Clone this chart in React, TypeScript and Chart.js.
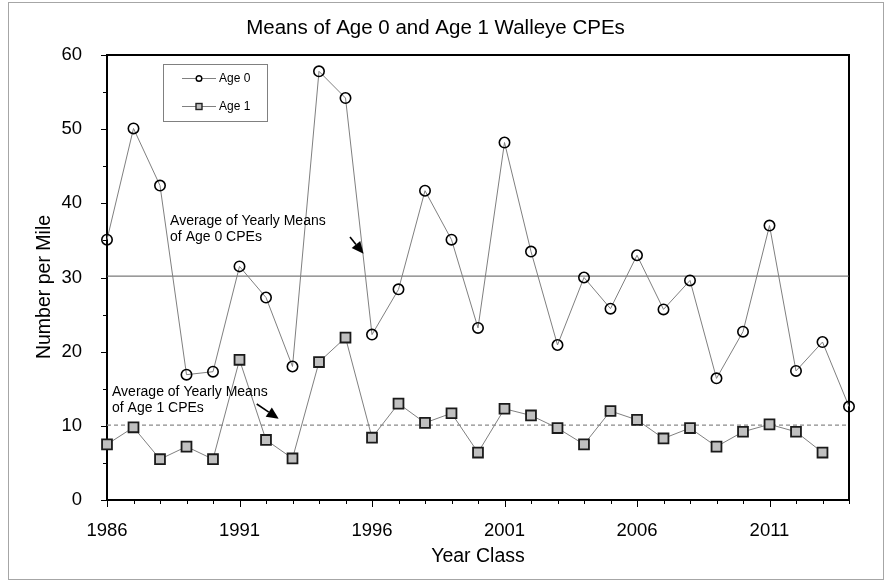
import React, { useEffect, useRef } from 'react';
import { Chart, registerables } from 'chart.js';

Chart.register(...registerables);

// ---------------- data ----------------
const YEARS = [
  1986, 1987, 1988, 1989, 1990, 1991, 1992, 1993, 1994, 1995,
  1996, 1997, 1998, 1999, 2000, 2001, 2002, 2003, 2004, 2005,
  2006, 2007, 2008, 2009, 2010, 2011, 2012, 2013, 2014,
];
const AGE0 = [
  35.1, 50.1, 42.4, 16.9, 17.3, 31.5, 27.3, 18.0, 57.8, 54.2,
  22.3, 28.4, 41.7, 35.1, 23.2, 48.2, 33.5, 20.9, 30.0, 25.8,
  33.0, 25.7, 29.6, 16.4, 22.7, 37.0, 17.4, 21.3, 12.6,
];
const AGE1 = [
  7.5, 9.8, 5.5, 7.2, 5.5, 18.9, 8.1, 5.6, 18.6, 21.9,
  8.4, 13.0, 10.4, 11.7, 6.4, 12.3, 11.4, 9.7, 7.5, 12.0,
  10.8, 8.3, 9.7, 7.2, 9.2, 10.2, 9.2, 6.4,
];
const X_LABEL_YEARS = [1986, 1991, 1996, 2001, 2006, 2011];
const Y_MIN = 0;
const Y_MAX = 60;
const Y_STEP = 10;
const Y_MINOR_STEP = 5;

const TITLE = 'Means of Age 0 and Age 1 Walleye CPEs';
const X_TITLE = 'Year Class';
const Y_TITLE = 'Number per Mile';
const SERIES_NAMES = ['Age 0', 'Age 1'];

const AGE0_NOTE = ['Average of Yearly Means', 'of Age 0 CPEs'];
const AGE1_NOTE = ['Average of Yearly Means', 'of Age 1 CPEs'];
// annotation anchors in data units (year, value)
const AGE0_NOTE_AT = { x: 1988.38, y: 37.66 };
const AGE0_ARROW = [{ x: 1995.17, y: 35.46 }, { x: 1995.68, y: 33.2 }];
const AGE1_NOTE_AT = { x: 1986.19, y: 14.6 };
const AGE1_ARROW = [{ x: 1991.65, y: 12.94 }, { x: 1992.48, y: 10.95 }];

const mean = (a: number[]) => a.reduce((s, v) => s + v, 0) / a.length;
const AGE0_AVG = mean(AGE0);
const AGE1_AVG = mean(AGE1);

// ---------------- styles ----------------
const FONT = '"Liberation Sans", Arial, Helvetica, sans-serif';
const LINE_GRAY = '#808080';

function drawArrow(ctx: CanvasRenderingContext2D, x1: number, y1: number, x2: number, y2: number) {
  const ang = Math.atan2(y2 - y1, x2 - x1);
  const headLen = 12;
  const headHalf = 5.5;
  const bx = x2 - headLen * Math.cos(ang);
  const by = y2 - headLen * Math.sin(ang);
  ctx.save();
  ctx.strokeStyle = '#000';
  ctx.fillStyle = '#000';
  ctx.lineWidth = 1.6;
  ctx.beginPath();
  ctx.moveTo(x1, y1);
  ctx.lineTo(bx, by);
  ctx.stroke();
  ctx.beginPath();
  ctx.moveTo(x2, y2);
  ctx.lineTo(bx + headHalf * Math.sin(ang), by - headHalf * Math.cos(ang));
  ctx.lineTo(bx - headHalf * Math.sin(ang), by + headHalf * Math.cos(ang));
  ctx.closePath();
  ctx.fill();
  ctx.restore();
}

const decor = {
  id: 'decor',
  beforeDraw(chart: any) {
    const ctx: CanvasRenderingContext2D = chart.ctx;
    ctx.save();
    ctx.fillStyle = '#fff';
    ctx.fillRect(0, 0, chart.width, chart.height);
    ctx.strokeStyle = '#a6a6a6';
    ctx.lineWidth = 1;
    ctx.strokeRect(8.5, 2.5, 875, 577);
    ctx.restore();
  },
  beforeDatasetsDraw(chart: any) {
    const ctx: CanvasRenderingContext2D = chart.ctx;
    const { left, right, top, bottom } = chart.chartArea;
    const xs = chart.scales.x;
    const ys = chart.scales.y;
    ctx.save();
    ctx.strokeStyle = '#000';
    ctx.lineWidth = 1;
    for (let yr = xs.min; yr <= xs.max; yr++) {
      const px = Math.round(xs.getPixelForValue(yr)) + 0.5;
      const len = X_LABEL_YEARS.includes(yr) ? 7 : 4;
      ctx.beginPath();
      ctx.moveTo(px, bottom);
      ctx.lineTo(px, bottom + len);
      ctx.stroke();
    }
    for (let v = Y_MIN; v <= Y_MAX; v += Y_MINOR_STEP) {
      const py = Math.round(ys.getPixelForValue(v)) + 0.5;
      const len = v % Y_STEP === 0 ? 6 : 4;
      ctx.beginPath();
      ctx.moveTo(left, py);
      ctx.lineTo(left - len, py);
      ctx.stroke();
    }
    ctx.lineWidth = 2;
    ctx.strokeRect(left, top, right - left, bottom - top);
    ctx.restore();
  },
  afterDatasetsDraw(chart: any) {
    const ctx: CanvasRenderingContext2D = chart.ctx;
    const xs = chart.scales.x;
    const ys = chart.scales.y;
    ctx.save();
    // annotations
    ctx.fillStyle = '#000';
    ctx.font = `14px ${FONT}`;
    ctx.textAlign = 'left';
    ctx.textBaseline = 'middle';
    const drawNote = (lines: string[], at: { x: number; y: number }) => {
      const px = xs.getPixelForValue(at.x);
      const py = ys.getPixelForValue(at.y);
      lines.forEach((t, i) => ctx.fillText(t, px, py + i * 16));
    };
    drawNote(AGE0_NOTE, AGE0_NOTE_AT);
    drawNote(AGE1_NOTE, AGE1_NOTE_AT);
    const arrow = (a: { x: number; y: number }[]) =>
      drawArrow(ctx, xs.getPixelForValue(a[0].x), ys.getPixelForValue(a[0].y),
        xs.getPixelForValue(a[1].x), ys.getPixelForValue(a[1].y));
    arrow(AGE0_ARROW);
    arrow(AGE1_ARROW);

    // legend
    const lx = 163, ly = 64, lw = 104, lh = 57;
    ctx.fillStyle = '#fff';
    ctx.fillRect(lx, ly, lw, lh);
    ctx.strokeStyle = '#808080';
    ctx.lineWidth = 1;
    ctx.strokeRect(lx + 0.5, ly + 0.5, lw, lh);
    const rows = [ly + 14, ly + 42];
    rows.forEach((ry, i) => {
      ctx.strokeStyle = LINE_GRAY;
      ctx.lineWidth = 1;
      ctx.beginPath();
      ctx.moveTo(lx + 19, ry + 0.5);
      ctx.lineTo(lx + 53, ry + 0.5);
      ctx.stroke();
      const mx = lx + 36;
      if (i === 0) {
        ctx.fillStyle = '#fff';
        ctx.strokeStyle = '#000';
        ctx.lineWidth = 1.4;
        ctx.beginPath();
        ctx.arc(mx, ry + 0.5, 2.8, 0, Math.PI * 2);
        ctx.fill();
        ctx.stroke();
      } else {
        ctx.fillStyle = '#c0c0c0';
        ctx.strokeStyle = '#222';
        ctx.lineWidth = 1.4;
        ctx.fillRect(mx - 3, ry - 2.5, 6, 6);
        ctx.strokeRect(mx - 3, ry - 2.5, 6, 6);
      }
      ctx.fillStyle = '#000';
      ctx.font = `12px ${FONT}`;
      ctx.textAlign = 'left';
      ctx.textBaseline = 'middle';
      ctx.fillText(SERIES_NAMES[i], lx + 56, ry + 1);
    });
    ctx.restore();
  },
  afterDraw(chart: any) {
    const ctx: CanvasRenderingContext2D = chart.ctx;
    const { left, right, top, bottom } = chart.chartArea;
    ctx.save();
    ctx.fillStyle = '#000';
    ctx.textAlign = 'center';
    ctx.textBaseline = 'alphabetic';
    ctx.font = `20.5px ${FONT}`;
    ctx.fillText(TITLE, 435.5, 33.5);
    ctx.font = `19.5px ${FONT}`;
    ctx.fillText(X_TITLE, (left + right) / 2, 562);
    ctx.translate(50, (top + bottom) / 2 + 9.5);
    ctx.rotate(-Math.PI / 2);
    ctx.fillText(Y_TITLE, 0, 0);
    ctx.restore();
  },
};

export default function App() {
  const ref = useRef<HTMLCanvasElement | null>(null);
  useEffect(() => {
    if (!ref.current) return;
    const chart = new Chart(ref.current, {
      type: 'line',
      data: {
        datasets: [
          {
            label: SERIES_NAMES[0],
            data: YEARS.map((x, i) => ({ x, y: AGE0[i] })),
            borderColor: LINE_GRAY,
            borderWidth: 1,
            pointRadius: 5.2,
            pointStyle: 'circle',
            pointBackgroundColor: 'rgba(0,0,0,0)',
            pointBorderColor: '#000',
            pointBorderWidth: 1.6,
            tension: 0,
            clip: false,
          },
          {
            label: SERIES_NAMES[1],
            data: AGE1.map((y, i) => ({ x: YEARS[i], y })),
            borderColor: LINE_GRAY,
            borderWidth: 1,
            pointRadius: 7,
            pointStyle: 'rect',
            pointBackgroundColor: '#c0c0c0',
            pointBorderColor: '#1a1a1a',
            pointBorderWidth: 1.8,
            tension: 0,
            clip: false,
          },
          {
            label: 'Age 0 average',
            data: [{ x: YEARS[0], y: AGE0_AVG }, { x: YEARS[YEARS.length - 1], y: AGE0_AVG }],
            borderColor: '#5a5a5a',
            borderWidth: 1,
            pointRadius: 0,
          },
          {
            label: 'Age 1 average',
            data: [{ x: YEARS[0], y: AGE1_AVG }, { x: YEARS[YEARS.length - 1], y: AGE1_AVG }],
            borderColor: '#8a8a8a',
            borderWidth: 1.3,
            borderDash: [4, 3],
            pointRadius: 0,
          },
        ],
      },
      options: {
        animation: false,
        responsive: false,
        devicePixelRatio: 1,
        layout: { padding: { left: 0, top: 55, right: 41, bottom: 0 } },
        plugins: {
          legend: { display: false },
          title: { display: false },
          tooltip: { enabled: false },
        },
        scales: {
          x: {
            type: 'linear',
            min: YEARS[0],
            max: YEARS[YEARS.length - 1],
            grid: { display: false },
            border: { display: false },
            ticks: {
              stepSize: 1,
              autoSkip: false,
              maxRotation: 0,
              padding: 12,
              color: '#000',
              font: { family: FONT, size: 18.5 },
              callback: (v: any) => (X_LABEL_YEARS.includes(Number(v)) ? String(v) : ''),
            },
            afterFit: (s: any) => { s.height = 81; },
          },
          y: {
            type: 'linear',
            min: Y_MIN,
            max: Y_MAX,
            grid: { display: false },
            border: { display: false },
            ticks: {
              stepSize: Y_STEP,
              padding: 17,
              color: '#000',
              font: { family: FONT, size: 18.5 },
            },
            afterFit: (s: any) => { s.width = 107; },
          },
        },
      },
      plugins: [decor],
    } as any);
    return () => chart.destroy();
  }, []);
  return (
    <div style={{ position: 'fixed', left: 0, top: 0, width: 890, height: 581 }}>
      <canvas ref={ref} width={890} height={581} style={{ display: 'block' }} />
    </div>
  );
}
